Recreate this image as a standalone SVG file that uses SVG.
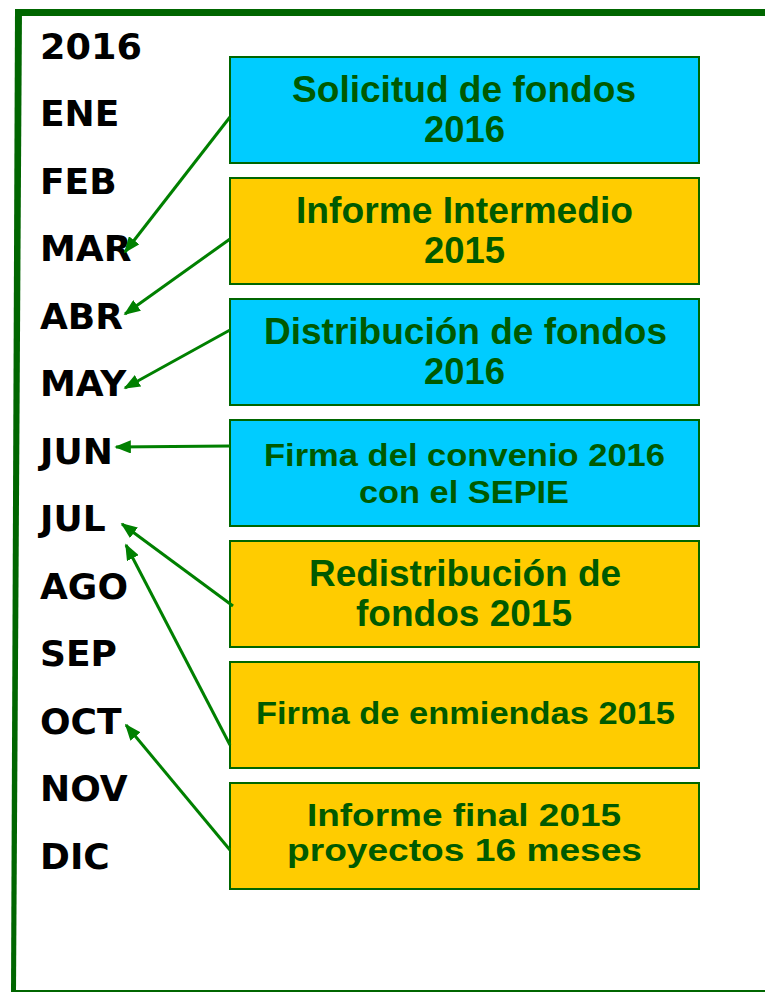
<svg xmlns="http://www.w3.org/2000/svg" width="765" height="993" viewBox="0 0 765 993">
<style>
.m{font-family:"DejaVu Sans",Verdana,sans-serif;font-weight:bold;font-size:36px;fill:#000}
.b{stroke:#006600;stroke-width:2}
.c{fill:#00CCFF}
.y{fill:#FFCC00}
.t{font-family:"Liberation Sans",Arial,sans-serif;font-weight:bold;fill:#005A00;text-anchor:middle}
.a{stroke:#008000;stroke-width:3;fill:none;marker-end:url(#ah)}
</style>
<defs>
<marker id="ah" viewBox="0 0 10 8" refX="9" refY="4" markerWidth="5.5" markerHeight="4.4" orient="auto">
<path d="M0,0 L10,4 L0,8 Z" fill="#008000"/>
</marker>
</defs>
<rect width="765" height="993" fill="#fff"/>
<g id="frame" fill="#006600">
<rect x="15" y="9" width="750" height="7"/>
<polygon points="15,9 22,9 16,992 11,992"/>
<rect x="11" y="990" width="754" height="2"/>
</g>
<g id="months">
<text class="m" x="40" y="59" textLength="102" lengthAdjust="spacingAndGlyphs">2016</text>
<text class="m" x="40" y="126">ENE</text>
<text class="m" x="40" y="193.5">FEB</text>
<text class="m" x="40" y="261">MAR</text>
<text class="m" x="40" y="328.5">ABR</text>
<text class="m" x="40" y="396">MAY</text>
<text class="m" x="40" y="463.5">JUN</text>
<text class="m" x="40" y="531">JUL</text>
<text class="m" x="40" y="598.5">AGO</text>
<text class="m" x="40" y="666">SEP</text>
<text class="m" x="40" y="733.5">OCT</text>
<text class="m" x="40" y="801">NOV</text>
<text class="m" x="40" y="868.5">DIC</text>
</g>
<g id="n1">
<rect class="b c" x="230" y="57" width="469" height="106"/>
<text class="t" font-size="36" x="464" y="102" textLength="344" lengthAdjust="spacingAndGlyphs">Solicitud de fondos</text>
<text class="t" font-size="36" x="464.5" y="142" textLength="81" lengthAdjust="spacingAndGlyphs">2016</text>
</g>
<g id="n2">
<rect class="b y" x="230" y="178" width="469" height="106"/>
<text class="t" font-size="36" x="464.5" y="223" textLength="337" lengthAdjust="spacingAndGlyphs">Informe Intermedio</text>
<text class="t" font-size="36" x="464.5" y="263" textLength="81" lengthAdjust="spacingAndGlyphs">2015</text>
</g>
<g id="n3">
<rect class="b c" x="230" y="299" width="469" height="106"/>
<text class="t" font-size="36" x="465.5" y="344" textLength="403" lengthAdjust="spacingAndGlyphs">Distribución de fondos</text>
<text class="t" font-size="36" x="464.5" y="384" textLength="81" lengthAdjust="spacingAndGlyphs">2016</text>
</g>
<g id="n4">
<rect class="b c" x="230" y="420" width="469" height="106"/>
<text class="t" font-size="31" x="464.5" y="466" textLength="401" lengthAdjust="spacingAndGlyphs">Firma del convenio 2016</text>
<text class="t" font-size="31" x="464" y="503" textLength="210" lengthAdjust="spacingAndGlyphs">con el SEPIE</text>
</g>
<g id="n5">
<rect class="b y" x="230" y="541" width="469" height="106"/>
<text class="t" font-size="36" x="465" y="586" textLength="312" lengthAdjust="spacingAndGlyphs">Redistribución de</text>
<text class="t" font-size="36" x="464" y="626" textLength="216" lengthAdjust="spacingAndGlyphs">fondos 2015</text>
</g>
<g id="n6">
<rect class="b y" x="230" y="662" width="469" height="106"/>
<text class="t" font-size="31" x="465.5" y="724" textLength="419" lengthAdjust="spacingAndGlyphs">Firma de enmiendas 2015</text>
</g>
<g id="n7">
<rect class="b y" x="230" y="783" width="469" height="106"/>
<text class="t" font-size="32" x="464" y="826" textLength="314" lengthAdjust="spacingAndGlyphs">Informe final 2015</text>
<text class="t" font-size="32" x="464.5" y="861" textLength="355" lengthAdjust="spacingAndGlyphs">proyectos 16 meses</text>
</g>
<g id="connectors">
<line class="a" x1="230" y1="117" x2="125" y2="252"/>
<line class="a" x1="230" y1="239" x2="125" y2="314"/>
<line class="a" x1="230" y1="330" x2="125" y2="388"/>
<line class="a" x1="230" y1="446" x2="116" y2="447"/>
<line class="a" x1="233" y1="606" x2="122" y2="524"/>
<line class="a" x1="230" y1="745" x2="126" y2="545"/>
<line class="a" x1="230" y1="850" x2="126" y2="725"/>
</g>
</svg>
